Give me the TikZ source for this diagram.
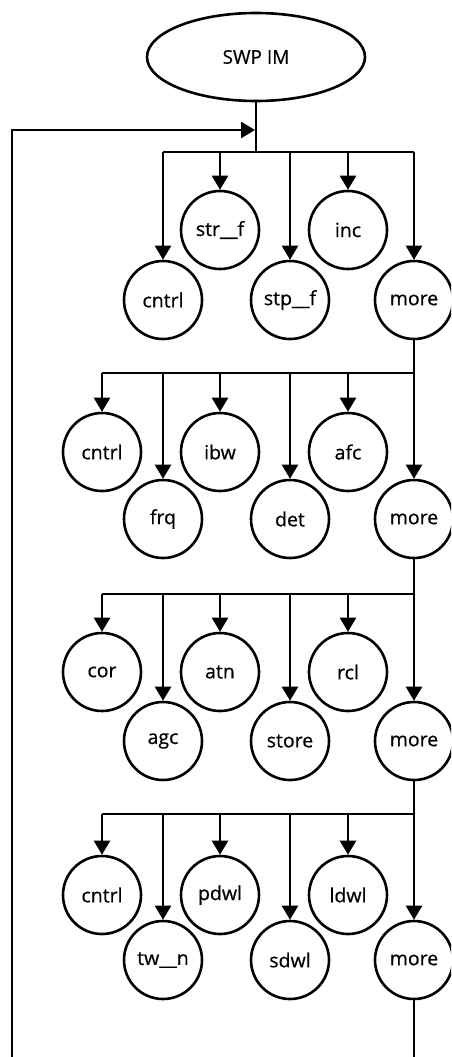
\documentclass[tikz,border=0pt]{standalone}
\usepackage{fontspec}
\setmainfont{Open Sans}
\newfontfamily\lblfont{Open Sans}[FakeBold=0.6]
\usetikzlibrary{arrows.meta,shapes.geometric}
\begin{document}
\begin{tikzpicture}[x=1pt,y=-1pt,line width=2.6pt,
  cir/.style={draw,circle,minimum size=78pt,inner sep=0pt,font=\lblfont\fontsize{19.5}{22}\selectfont},
  ell/.style={draw,ellipse,minimum width=218pt,minimum height=88pt,inner sep=0pt,font=\lblfont\fontsize{19}{22}\selectfont},
  arr/.style={-{Triangle[width=16pt,length=14pt]}}]
\useasboundingbox (0,0) rectangle (451,1057);
\clip (0,0) rectangle (451,1057);
% top
\node[ell] (top) at (256,57) {SWP IM};
\coordinate (lp) at (12,130);
\coordinate (j1) at (256,152);
% level 1
\node[cir] (a1) at (163,300) {cntrl};
\node[cir] (a2) at (220,230) {str\_\_f};
\node[cir] (a3) at (290,300) {stp\_\_f};
\node[cir] (a4) at (348,230) {inc};
\node[cir] (a5) at (414,300) {more};
\draw (top.south) -- (j1);
\draw (a1 |- j1) -- (a5 |- j1);
\foreach \n in {a1,a2,a3,a4,a5} \draw[arr] (\n |- j1) -- (\n.north);
% level 2
\coordinate (j2) at (414,373);
\node[cir] (b1) at (102,452) {cntrl};
\node[cir] (b2) at (163,519) {frq};
\node[cir] (b3) at (220,452) {ibw};
\node[cir] (b4) at (290,519) {det};
\node[cir] (b5) at (348,452) {afc};
\node[cir] (b6) at (414,519) {more};
\draw (b1 |- j2) -- (j2);
\draw[arr] (a5.south) -- (b6.north);
\foreach \n in {b1,b2,b3,b4,b5} \draw[arr] (\n |- j2) -- (\n.north);
% level 3
\coordinate (j3) at (414,594);
\node[cir] (c1) at (102,672) {cor};
\node[cir] (c2) at (163,741) {agc};
\node[cir] (c3) at (220,672) {atn};
\node[cir] (c4) at (290,741) {store};
\node[cir] (c5) at (348,672) {rcl};
\node[cir] (c6) at (414,741) {more};
\draw (c1 |- j3) -- (j3);
\draw[arr] (b6.south) -- (c6.north);
\foreach \n in {c1,c2,c3,c4,c5} \draw[arr] (\n |- j3) -- (\n.north);
% level 4
\coordinate (j4) at (414,814);
\node[cir] (d1) at (102,895) {cntrl};
\node[cir] (d2) at (163,960) {tw\_\_n};
\node[cir] (d3) at (220,895) {pdwl};
\node[cir] (d4) at (290,960) {sdwl};
\node[cir] (d5) at (348,895) {ldwl};
\node[cir] (d6) at (414,960) {more};
\draw (d1 |- j4) -- (j4);
\draw[arr] (c6.south) -- (d6.north);
\foreach \n in {d1,d2,d3,d4,d5} \draw[arr] (\n |- j4) -- (\n.north);
% loop back
\coordinate (e1) at (414,1080);
\coordinate (e2) at (12,1080);
\draw[arr,shorten >=1pt] (d6.south) -- (e1) -- (e2) -- (lp) -- (top.south |- lp);
\end{tikzpicture}
\end{document}
